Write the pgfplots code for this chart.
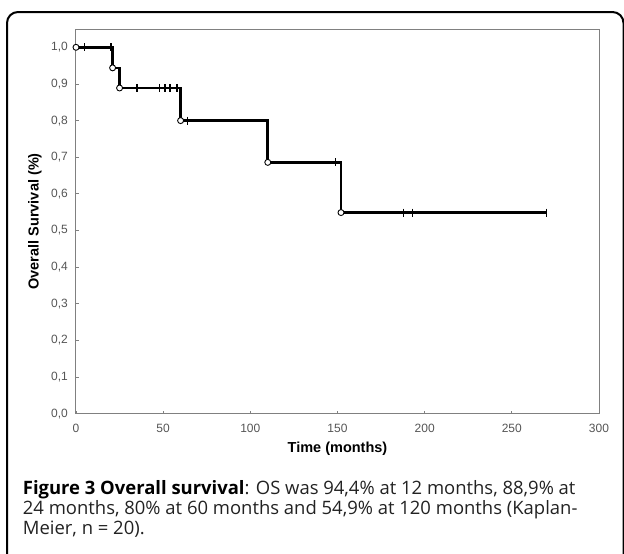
\documentclass[border=0pt]{standalone}
\usepackage{fontspec}
\setmainfont{Liberation Sans}
\newfontfamily\capfont{Open Sans}
\usepackage{pgfplots}
\pgfplotsset{compat=1.18}
\definecolor{axgray}{HTML}{808080}
\definecolor{lblgray}{HTML}{555555}
\definecolor{capgray}{HTML}{222222}
\begin{document}
\begin{tikzpicture}
\path[use as bounding box] (0,0) rectangle (624pt,-554pt);
\begin{scope}
\clip (0,0) rectangle (624pt,-554pt);
\draw[line width=2pt, rounded corners=11pt] (7pt,-12pt) rectangle (623.5pt,-620pt);
\end{scope}
\begin{axis}[
  at={(76pt,-413.7pt)}, anchor=south west,
  scale only axis, width=523pt, height=384.7pt,
  xmin=0, xmax=300, ymin=0, ymax=1.05,
  xtick={0,50,100,150,200,250,300},
  ytick={0,0.1,0.2,0.3,0.4,0.5,0.6,0.7,0.8,0.9,1.0},
  xtick pos=bottom, ytick pos=left,
  tick align=inside, major tick length=3pt,
  tick style={axgray, line width=0.8pt},
  axis line style={axgray, line width=1pt},
  /pgf/number format/assume math mode=true,
  yticklabel style={/pgf/number format/fixed, /pgf/number format/fixed zerofill, /pgf/number format/precision=1, /pgf/number format/use comma},
  yticklabel style={font=\fontsize{12}{13}\selectfont, text=lblgray, anchor=east, inner sep=0pt, xshift=-8pt},
  xticklabel style={font=\fontsize{12}{13}\selectfont, text=lblgray, anchor=base, inner sep=0pt, yshift=-18.5pt},
  xlabel={Time (months)},
  ylabel={Overall Survival (\%)},
  xlabel style={font=\bfseries\fontsize{14.5}{16}\selectfont, at={(axis description cs:0.5,-0.09)}, anchor=center},
  ylabel style={font=\bfseries\fontsize{14.5}{16}\selectfont, at={(axis description cs:-0.0784,0.5)}, anchor=center},
  clip=false,
]
\addplot[const plot, black, line width=2.6pt, no marks] coordinates {
  (0,1) (21,0.944) (25,0.889) (60,0.8) (110,0.686) (152,0.549) (270,0.549)
};
\addplot[only marks, mark=|, mark size=4pt, black, line width=1.4pt] coordinates {
  (5,1) (20,1)
  (35,0.889) (48,0.889) (51,0.889) (54,0.889) (58,0.889)
  (64,0.8) (149,0.686)
  (188,0.549) (193,0.549) (270,0.549)
};
\addplot[only marks, mark=*, mark size=3pt, mark options={fill=white, draw=black, line width=0.9pt}] coordinates {
  (0,1) (21,0.944) (25,0.889) (60,0.8) (110,0.686) (152,0.549)
};
\end{axis}
\node[anchor=base west, inner sep=0pt, text=capgray, font=\capfont\fontsize{18.45}{20.3}\selectfont] at (22.7pt,-494pt) {\textbf{\color{black}Figure 3 Overall survival}: OS was 94,4\% at 12 months, 88,9\% at};
\node[anchor=base west, inner sep=0pt, text=capgray, font=\capfont\fontsize{18.45}{20.3}\selectfont] at (22.7pt,-514pt) {24 months, 80\% at 60 months and 54,9\% at 120 months (Kaplan-};
\node[anchor=base west, inner sep=0pt, text=capgray, font=\capfont\fontsize{18.45}{20.3}\selectfont] at (22.7pt,-534pt) {Meier, n = 20).};
\end{tikzpicture}
\end{document}
